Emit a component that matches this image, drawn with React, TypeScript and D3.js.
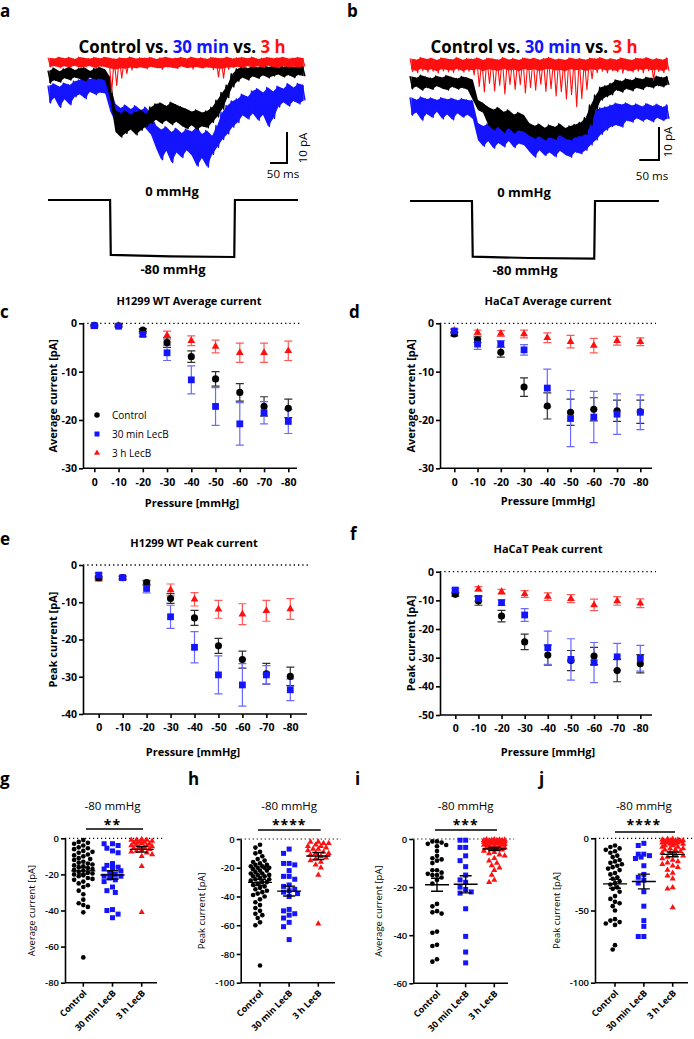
import React, { useEffect, useRef } from 'react';
import * as d3 from 'd3';

const FONT = "'Open Sans', sans-serif";
const BLACK = '#000000';
const BLUE = '#1414ff';
const RED = '#ff1010';

// ---- single-channel current traces: upper / lower edge of the noise band (pA), 51 samples ----
const aRedHi = [1.4, 1.1, 1.6, 1.2, 1.5, 1.0, 1.6, 1.3, 1.1, 1.5, 1.2, 1.6, 1.3, 1.0, 1.4, 1.2, 1.6, 1.1, 1.4, 1.3, 1.5, 1.0, 1.4, 1.6, 1.2, 1.3, 1.5, 1.1, 1.6, 1.2, 1.4, 1.0, 1.5, 1.3, 1.2, 1.6, 1.1, 1.4, 1.5, 1.2, 1.6, 1.0, 1.3, 1.5, 1.2, 1.4, 1.6, 1.1, 1.3, 1.5, 1.2];
const aRedLo = [-1.6, -1.3, -1.9, -1.4, -1.7, -1.2, -1.8, -1.5, -1.3, -1.9, -1.4, -1.6, -9.8, -7.6, -5.2, -3.8, -2.6, -2.0, -1.7, -2.2, -1.5, -1.9, -2.4, -1.6, -1.8, -2.1, -1.4, -1.9, -2.3, -1.6, -2.0, -1.7, -2.5, -4.8, -5.2, -2.4, -1.8, -1.5, -1.9, -1.3, -1.7, -1.4, -1.8, -1.2, -1.6, -1.9, -1.3, -1.7, -1.5, -1.8, -1.4];
const aBlackHi = [-2.8, -1.9, -3.0, -2.2, -1.6, -2.6, -2.0, -1.8, -2.9, -2.1, -1.7, -2.4, -5.0, -15.5, -16.5, -15.8, -17.0, -16.2, -15.5, -16.8, -14.5, -13.5, -13.2, -14.2, -13.0, -13.8, -14.5, -15.2, -16.0, -15.5, -16.3, -15.8, -14.6, -12.3, -9.8, -7.5, -3.8, -2.2, -1.4, -2.0, -1.2, -1.8, -1.0, -1.6, -1.3, -0.9, -1.5, -1.1, -1.7, -1.0, -1.4];
const aBlackLo = [-6.8, -5.9, -6.5, -5.2, -5.8, -4.9, -5.5, -6.1, -5.0, -5.6, -5.3, -6.0, -12.0, -22.5, -24.2, -23.0, -21.8, -23.5, -22.0, -20.8, -19.7, -18.6, -19.8, -18.9, -20.2, -19.3, -20.6, -21.5, -20.4, -21.8, -20.7, -21.2, -19.5, -17.7, -15.2, -11.5, -8.0, -6.2, -5.0, -5.8, -4.6, -5.3, -4.3, -5.1, -4.5, -4.0, -4.8, -4.2, -5.0, -4.1, -4.6];
const aBlueHi = [-7.6, -7.0, -8.0, -6.8, -7.4, -6.2, -5.8, -4.9, -5.5, -4.8, -5.2, -5.0, -8.0, -13.5, -14.8, -13.9, -15.2, -14.1, -15.5, -14.6, -16.8, -20.5, -21.8, -20.9, -22.6, -21.4, -22.9, -21.7, -22.4, -21.0, -23.2, -22.1, -23.8, -20.5, -16.2, -14.0, -12.6, -11.9, -10.4, -11.2, -9.3, -8.6, -9.8, -8.2, -9.5, -7.8, -8.6, -7.0, -8.2, -6.9, -7.5];
const aBlueLo = [-13.2, -11.5, -14.6, -12.0, -13.8, -11.2, -10.4, -11.8, -9.6, -10.5, -9.8, -10.2, -16.0, -19.5, -21.2, -19.0, -20.8, -22.0, -19.8, -21.5, -23.5, -27.8, -31.5, -28.6, -32.4, -29.2, -30.8, -28.5, -30.2, -33.6, -31.0, -33.9, -29.8, -27.5, -25.0, -23.2, -21.0, -19.5, -17.2, -18.4, -16.6, -18.8, -17.0, -20.8, -18.2, -14.5, -13.0, -14.2, -12.6, -13.5, -12.4];

const bRedHi = [2.0, 1.6, 2.3, 1.8, 2.1, 1.5, 2.2, 1.9, 1.7, 2.3, 1.6, 2.0, 1.8, 2.2, 1.5, 2.1, 1.9, 1.6, 2.3, 1.7, 2.0, 1.5, 2.2, 1.8, 2.1, 1.6, 2.0, 2.3, 1.7, 1.9, 1.5, 2.2, 1.8, 2.0, 1.6, 2.1, 1.9, 2.3, 1.7, 2.0, 1.6, 2.2, 1.8, 1.5, 2.1, 1.9, 2.3, 1.7, 2.0, 1.6, 2.2];
const bRedLo = [-2.0, -2.4, -1.7, -2.2, -1.9, -2.5, -1.8, -2.1, -2.3, -1.6, -2.2, -1.9, -3.0, -6.5, -8.2, -5.6, -7.9, -6.2, -8.8, -5.9, -7.4, -6.0, -8.5, -6.8, -7.6, -5.8, -8.0, -7.2, -9.4, -8.1, -10.3, -9.0, -12.6, -10.2, -7.5, -4.2, -2.3, -1.9, -2.4, -1.7, -2.1, -2.5, -1.8, -2.2, -1.9, -2.4, -1.7, -4.6, -2.0, -2.3, -1.8];
const bBlackHi = [-3.4, -3.9, -3.1, -3.6, -4.0, -3.3, -3.8, -3.2, -3.7, -4.1, -3.5, -3.9, -4.5, -10.6, -11.5, -12.7, -13.5, -12.9, -14.2, -13.6, -15.0, -14.4, -15.2, -17.6, -18.4, -17.9, -19.0, -18.2, -18.8, -17.8, -19.1, -18.5, -18.0, -17.4, -16.0, -12.1, -9.1, -6.7, -6.3, -5.6, -4.5, -4.9, -4.2, -4.6, -3.9, -4.3, -3.7, -4.0, -3.4, -3.8, -3.5];
const bBlackLo = [-7.2, -6.5, -7.6, -6.8, -7.4, -6.4, -7.1, -7.6, -6.6, -7.3, -6.9, -7.5, -10.6, -13.6, -14.5, -18.2, -19.6, -18.8, -20.4, -19.2, -20.6, -19.8, -20.2, -21.4, -22.2, -21.6, -22.7, -21.9, -22.5, -21.2, -22.3, -22.7, -21.8, -21.5, -21.0, -18.2, -13.6, -10.6, -9.6, -9.0, -7.6, -8.2, -7.2, -7.8, -6.9, -7.4, -6.5, -6.9, -6.2, -6.6, -6.0];
const bBlueHi = [-9.8, -10.5, -9.7, -10.3, -10.0, -10.6, -9.9, -10.4, -10.1, -10.7, -10.2, -10.6, -10.8, -17.6, -18.5, -17.9, -19.0, -18.3, -19.5, -18.6, -19.7, -18.9, -19.3, -20.8, -21.5, -20.6, -21.8, -21.0, -21.6, -20.7, -21.4, -21.8, -20.9, -21.2, -19.7, -18.2, -13.6, -13.0, -12.7, -12.2, -11.6, -12.0, -11.5, -12.3, -11.8, -12.6, -11.7, -12.4, -11.9, -12.7, -12.1];
const bBlueLo = [-15.2, -14.4, -16.7, -14.8, -15.9, -14.2, -16.3, -15.0, -16.6, -14.6, -15.8, -15.1, -16.4, -22.7, -24.6, -23.1, -25.2, -23.6, -24.8, -23.0, -25.0, -23.8, -24.3, -26.2, -27.9, -25.8, -27.4, -26.5, -27.8, -26.0, -27.2, -27.9, -26.4, -26.9, -25.8, -24.2, -22.7, -21.0, -19.7, -18.6, -18.2, -18.8, -16.8, -17.3, -16.1, -17.0, -16.4, -17.2, -16.0, -16.8, -16.3];

// pressure protocol, [ms, mmHg]
const aPressure: [number, number][] = [[0, 0], [183, 0], [185, -77], [360, -79], [549, -80], [551, 0], [737, 0]];
const bPressure: [number, number][] = [[0, 0], [157, 0], [159, -78], [300, -80], [467, -81], [469, 0], [631, 0]];

// ---- pressure series (mean ± SEM) ----
const pressures = [0, -10, -20, -30, -40, -50, -60, -70, -80];

const cCtrl = [-0.4, -0.5, -1.4, -4.0, -6.9, -11.5, -14.3, -17.2, -17.6];
const cCtrlErr = [0.2, 0.2, 0.3, 1.0, 1.2, 1.5, 1.8, 2.0, 1.9];
const c30 = [-0.5, -0.6, -2.3, -6.1, -11.7, -17.2, -20.8, -18.5, -20.3];
const c30Err = [0.2, 0.2, 0.4, 1.6, 2.9, 3.9, 4.4, 2.3, 2.5];
const c3h = [-0.7, -0.5, -1.7, -2.5, -3.6, -4.8, -6.1, -6.1, -5.7];
const c3hErr = [0.2, 0.2, 0.4, 0.9, 1.0, 1.3, 2.0, 2.0, 2.0];

const dCtrl = [-2.2, -3.4, -6.0, -13.2, -17.1, -18.4, -17.8, -18.1, -18.3];
const dCtrlErr = [0.4, 0.6, 1.0, 1.9, 2.7, 2.7, 2.4, 2.2, 2.4];
const d30 = [-1.6, -4.3, -4.3, -5.5, -13.4, -19.7, -19.4, -18.8, -18.4];
const d30Err = [0.4, 1.1, 0.7, 1.1, 3.9, 5.8, 5.3, 4.2, 3.6];
const d3h = [-1.5, -1.9, -2.1, -2.2, -3.0, -3.8, -4.6, -3.6, -3.8];
const d3hErr = [0.3, 0.5, 0.6, 0.8, 1.0, 1.3, 1.5, 0.9, 0.8];

const eCtrl = [-3.4, -3.4, -4.7, -9.0, -14.2, -21.7, -25.4, -29.2, -29.9];
const eCtrlErr = [0.4, 0.4, 0.6, 1.3, 2.0, 2.0, 2.3, 2.8, 2.5];
const e30 = [-2.7, -3.4, -6.3, -13.9, -22.1, -29.5, -32.2, -29.5, -33.5];
const e30Err = [0.5, 0.4, 1.2, 3.1, 4.2, 5.1, 5.7, 2.5, 2.9];
const e3h = [-3.8, -3.6, -4.9, -6.7, -9.2, -11.9, -13.2, -12.3, -11.8];
const e3hErr = [0.4, 0.4, 0.6, 1.6, 1.8, 2.4, 2.8, 2.8, 2.8];

const fCtrl = [-7.9, -10.2, -15.5, -24.5, -29.1, -31.0, -29.4, -34.5, -32.1];
const fCtrlErr = [0.6, 1.5, 2.0, 2.7, 3.5, 3.5, 3.0, 3.9, 3.2];
const f30 = [-6.4, -9.3, -10.8, -15.1, -26.5, -30.6, -31.7, -29.7, -30.2];
const f30Err = [0.6, 1.0, 1.0, 2.2, 5.8, 7.2, 7.0, 4.7, 4.5];
const f3h = [-7.0, -6.0, -7.0, -7.8, -8.7, -9.4, -11.6, -10.2, -11.0];
const f3hErr = [0.6, 0.8, 0.8, 1.2, 1.3, 1.4, 2.0, 1.5, 1.5];

// ---- single cells at -80 mmHg ----
const groups = ['Control', '30 min LecB', '3 h LecB'];

const gCtrl = [-1, -2, -2.5, -3, -4, -5, -5.5, -6, -7, -7.5, -8, -9, -9.5, -10, -11, -11.5, -12, -13, -13.5, -14, -14.5, -15, -15.5, -16, -16.5, -17, -17.5, -18, -18.5, -19, -19.5, -20, -20.5, -21, -22, -22.5, -23, -24, -25, -26, -27, -29, -31, -34, -36, -37, -38, -41, -66];
const g30 = [-3, -3, -4, -5.5, -7, -8, -14, -15, -16, -16.5, -17, -18, -19, -20, -21, -21, -22, -23, -24, -27, -29, -30, -39.5, -40, -42, -44];
const g3h = [-0.5, -1, -1, -1, -1.5, -2, -2, -2.5, -3, -3, -3.5, -4, -4, -4.5, -5, -5, -5.5, -6, -6.5, -7, -7.5, -8, -9, -10, -15.5, -41];

const hCtrl = [-4, -6, -9, -10, -12, -14, -15, -16, -17, -18, -18, -19, -19, -20, -20, -20, -21, -22, -22, -23, -24, -24, -25, -25, -26, -26, -27, -28, -28, -29, -30, -30, -31, -32, -33, -34, -35, -36, -37, -38, -39, -40, -42, -44, -46, -48, -50, -52, -53, -55, -58, -60, -88];
const h30 = [-7, -10, -17, -17, -18, -22, -26, -26, -28, -32, -33, -35, -36, -37, -38, -40, -49, -50, -52, -53, -55, -58, -61, -70];
const h3h = [-2, -2, -3, -3, -4, -5, -5, -6, -7, -7, -8, -9, -10, -10, -11, -12, -13, -14, -15, -16, -18, -20, -25, -59];

const iCtrl = [-1, -1, -1.5, -2, -2.5, -3, -5, -7, -8, -8.5, -9, -10, -13, -13, -14, -14.5, -15, -15, -16, -17, -18.5, -27, -28, -30, -30.5, -31, -38.5, -39, -44, -44.5, -50, -51];
const i30 = [-0.5, -0.5, -3.5, -3.5, -7, -9, -11.5, -15, -17, -18, -20, -21, -22, -22.5, -29, -40.5, -47, -51.5];
const i3h = [-0.2, -0.2, -0.3, -0.3, -0.4, -0.5, -0.5, -0.5, -0.6, -0.7, -0.8, -0.8, -1, -1, -1, -1.2, -1.2, -1.4, -1.5, -1.5, -1.8, -2, -2, -2.2, -2.5, -2.5, -2.8, -3, -3, -3.5, -3.5, -4, -4, -4.5, -5, -5.5, -6, -6.5, -7, -8, -9, -10, -11, -12, -13, -15, -17, -18];

const jCtrl = [-5, -6, -7, -8, -9, -10, -12, -13, -15, -16, -17, -18, -19, -20, -21, -22, -24, -25, -27, -28, -30, -31, -32, -34, -35, -37, -40, -42, -44, -45, -47, -50, -56, -57, -58, -59, -60, -74, -77];
const j30 = [-3.5, -5, -11, -11, -12, -13, -14, -19, -25, -27, -29, -31, -37, -47, -57, -61, -68, -68];
const j3h = [-0.5, -0.5, -1, -1, -1.5, -1.5, -2, -2, -2, -2.5, -3, -3, -3, -4, -4, -4, -5, -5, -6, -6, -7, -7, -8, -8, -9, -10, -10, -11, -12, -13, -14, -15, -16, -17, -18, -19, -20, -22, -24, -26, -28, -34, -35, -48];

type Sel = d3.Selection<SVGGElement, unknown, null, undefined>;

function addText(g: Sel, x: number, y: number, txt: string, size: number, weight = 400, anchor = 'middle') {
  return g.append('text')
    .attr('x', x).attr('y', y)
    .attr('text-anchor', anchor)
    .attr('font-family', FONT)
    .attr('font-size', size)
    .attr('font-weight', weight)
    .attr('fill', BLACK)
    .text(txt);
}

// noise band: solid core between the edges plus a zig-zag for the spikes
function drawBand(g: Sel, hi: number[], lo: number[], step: number, x: d3.ScaleLinear<number, number>, y: d3.ScaleLinear<number, number>, color: string, spiky: boolean) {
  const area = d3.area<number>()
    .x((_, i) => x(i * step + step / 4))
    .y0((h, i) => y(spiky ? Math.max(lo[i], h - 3.4) : lo[i]))
    .y1((h) => y(h));
  g.append('path').attr('d', area(hi)).attr('fill', color);

  const pts: [number, number][] = [];
  hi.forEach((h, i) => {
    pts.push([x(i * step), y(h)]);
    pts.push([x(i * step + step / 2), y(lo[i])]);
  });
  g.append('path')
    .attr('d', d3.line()(pts))
    .attr('fill', 'none')
    .attr('stroke', color)
    .attr('stroke-width', spiky ? 1.1 : 1.4)
    .attr('stroke-linejoin', 'round');
}

interface TraceCfg {
  cx: number; x0: number; x1: number; step: number; yRef: number; px10: number;
  traces: { hi: number[]; lo: number[]; color: string; spiky?: boolean }[];
  pressure: [number, number][]; pY0: number; pY80: number;
  bar: [number, number]; pALabel: [number, number]; msLabel: [number, number];
}

function drawTracePanel(g: Sel, c: TraceCfg) {
  const n = c.traces[0].hi.length;
  const x = d3.scaleLinear().domain([0, (n - 0.5) * c.step]).range([c.x0, c.x1]);
  const y = d3.scaleLinear().domain([0, -10]).range([c.yRef, c.yRef + c.px10]);

  c.traces.forEach((t) => drawBand(g, t.hi, t.lo, c.step, x, y, t.color, !!t.spiky));

  const title = g.append('text')
    .attr('x', c.cx).attr('y', 53)
    .attr('text-anchor', 'middle')
    .attr('font-family', FONT)
    .attr('font-size', 17)
    .attr('font-weight', 700)
    .attr('textLength', 207)
    .attr('lengthAdjust', 'spacingAndGlyphs')
    .style('white-space', 'pre');
  [['Control vs. ', BLACK], ['30 min', BLUE], [' vs. ', BLACK], ['3 h', RED]].forEach(([s, col]) => {
    title.append('tspan').attr('fill', col).text(s);
  });

  // scale bar: 10 pA / 50 ms
  const [bx, by] = c.bar;
  const w50 = x(50) - x(0);
  const h10 = y(-10) - y(0);
  g.append('path')
    .attr('d', `M${bx - w50},${by}H${bx}V${by - h10}`)
    .attr('fill', 'none').attr('stroke', BLACK).attr('stroke-width', 2);
  addText(g, 0, 0, '10 pA', 11.5)
    .attr('transform', `translate(${c.pALabel[0]},${c.pALabel[1]}) rotate(-90)`);
  addText(g, c.msLabel[0], c.msLabel[1], '50 ms', 11.5);

  // pressure step
  const py = d3.scaleLinear().domain([0, -80]).range([c.pY0, c.pY80]);
  g.append('path')
    .attr('d', d3.line<[number, number]>().x((d) => x(d[0])).y((d) => py(d[1]))(c.pressure))
    .attr('fill', 'none').attr('stroke', BLACK).attr('stroke-width', 2.2);
  addText(g, c.cx - 10, c.pY0 - 4, '0 mmHg', 13, 700);
  addText(g, c.cx - 9, c.pY80 + 17, '-80 mmHg', 13, 700);
}

interface LineCfg {
  axisX: number; axisEnd: number; y0: number; yB: number; min: number; tickStep: number;
  firstX: number; lastX: number;
  title: string; titleX: number; titleY: number;
  yLabel: string; yLabelX: number; xLabelX: number; xLabelY: number;
  series: { vals: number[]; errs: number[]; color: string; errColor: string; shape: d3.SymbolType; size: number }[];
  legend?: boolean;
}

function drawLinePanel(g: Sel, c: LineCfg) {
  const y = d3.scaleLinear().domain([c.min, 0]).range([c.yB, c.y0]);
  const x = d3.scalePoint<number>().domain(pressures).range([c.firstX, c.lastX]);

  // zero line
  g.append('line')
    .attr('x1', c.axisX).attr('x2', c.axisEnd + 4)
    .attr('y1', y(0)).attr('y2', y(0))
    .attr('stroke', BLACK).attr('stroke-width', 1.3).attr('stroke-dasharray', '1.3,3');

  const yTicks = d3.range(0, c.min - 1, -c.tickStep);
  const ya = g.append('g')
    .attr('transform', `translate(${c.axisX},0)`)
    .call(d3.axisLeft(y).tickValues(yTicks).tickSize(4).tickSizeOuter(0).tickFormat((d) => String(d)));
  const xa = g.append('g')
    .attr('transform', `translate(0,${c.yB})`)
    .call(d3.axisBottom(x).tickSize(4).tickSizeOuter(0).tickFormat((d) => String(d)));
  xa.select('.domain').remove();
  g.append('line')
    .attr('x1', c.axisX).attr('x2', c.axisEnd)
    .attr('y1', c.yB).attr('y2', c.yB)
    .attr('stroke', BLACK).attr('stroke-width', 1.6);
  [ya, xa].forEach((a) => {
    a.selectAll('path,line').attr('stroke', BLACK).attr('stroke-width', 1.6);
    a.selectAll('text')
      .attr('font-family', FONT).attr('font-size', 10.5).attr('font-weight', 700).attr('fill', BLACK);
  });
  ya.selectAll('text').attr('x', -6);
  xa.selectAll('text').attr('y', 10);

  c.series.forEach((s) => {
    const eg = g.append('g').attr('stroke', s.errColor).attr('stroke-width', 1.2);
    s.vals.forEach((v, i) => {
      const cx = x(pressures[i]) as number;
      const top = y(v + s.errs[i]);
      const bot = y(v - s.errs[i]);
      eg.append('path').attr('d', `M${cx},${top}V${bot}M${cx - 4},${top}H${cx + 4}M${cx - 4},${bot}H${cx + 4}`);
    });
  });
  c.series.forEach((s) => {
    g.append('g').selectAll('path')
      .data(s.vals)
      .join('path')
      .attr('transform', (v, i) => `translate(${x(pressures[i])},${y(v)})`)
      .attr('d', d3.symbol().type(s.shape).size(s.size)())
      .attr('fill', s.color);
  });

  addText(g, c.titleX, c.titleY, c.title, 11, 700);
  addText(g, c.xLabelX, c.xLabelY, 'Pressure [mmHg]', 11, 700);
  addText(g, 0, 0, c.yLabel, 11, 700)
    .attr('transform', `translate(${c.yLabelX},${(c.y0 + c.yB) / 2}) rotate(-90)`);

  if (c.legend) {
    const items = [
      { name: 'Control', shape: d3.symbolCircle, color: BLACK, size: 24 },
      { name: '30 min LecB', shape: d3.symbolSquare, color: BLUE, size: 25 },
      { name: '3 h LecB', shape: d3.symbolTriangle, color: RED, size: 16 },
    ];
    items.forEach((it, i) => {
      const ly = 415 + i * 19;
      g.append('path')
        .attr('transform', `translate(97,${ly})`)
        .attr('d', d3.symbol().type(it.shape).size(it.size)())
        .attr('fill', it.color);
      addText(g, 112, ly + 3.5, it.name, 10, 400, 'start');
    });
  }
}

interface DotCfg {
  axisX: number; axisEnd: number; y0: number; yB: number; min: number; tickStep: number;
  cols: [number, number]; stars: string; bar: [number, number, number];
  yLabel: string; yLabelX: number;
  data: number[][];
}

// beeswarm within a fixed column width; points overlap once the row is full
function swarm(vals: number[], y: d3.ScaleLinear<number, number>, cx: number, d: number, maxOff: number) {
  const order = vals.map((_, i) => i).sort((a, b) => vals[b] - vals[a]);
  const placed: [number, number][] = [];
  const xs: number[] = new Array(vals.length).fill(cx);
  const offsets: number[] = [];
  for (let k = 0; ; k++) {
    const off = (k % 2 === 0 ? 1 : -1) * Math.ceil(k / 2) * d * 0.5;
    if (Math.abs(off) > maxOff) break;
    offsets.push(off);
  }
  order.forEach((i) => {
    const py = y(vals[i]);
    let best = cx;
    let bestGap = -1;
    for (const off of offsets) {
      const px = cx + off;
      const gap = placed.reduce((m, p) => Math.min(m, Math.hypot(p[0] - px, p[1] - py)), Infinity);
      if (gap >= d) { best = px; bestGap = gap; break; }
      if (gap > bestGap) { bestGap = gap; best = px; }
    }
    xs[i] = best;
    placed.push([best, py]);
  });
  return xs;
}

function drawDotPlot(g: Sel, c: DotCfg) {
  const y = d3.scaleLinear().domain([c.min, 0]).range([c.yB, c.y0]);
  const x = d3.scalePoint<string>().domain(groups).range(c.cols);
  const styles = [
    { shape: d3.symbolCircle, size: 17, color: BLACK, d: 4.6 },
    { shape: d3.symbolSquare, size: 25, color: BLUE, d: 5.6 },
    { shape: d3.symbolTriangle, size: 16, color: RED, d: 5.2 },
  ];

  g.append('line')
    .attr('x1', c.axisX).attr('x2', c.axisEnd + 6)
    .attr('y1', y(0)).attr('y2', y(0))
    .attr('stroke', BLACK).attr('stroke-width', 1.2).attr('stroke-dasharray', '1.2,2.8');

  const ya = g.append('g')
    .attr('transform', `translate(${c.axisX},0)`)
    .call(d3.axisLeft(y).tickValues(d3.range(0, c.min - 1, -c.tickStep)).tickSize(4).tickSizeOuter(0).tickFormat((d) => String(d)));
  ya.selectAll('path,line').attr('stroke', BLACK).attr('stroke-width', 1.6);
  ya.selectAll('text')
    .attr('x', -6)
    .attr('font-family', FONT).attr('font-size', 9.5).attr('font-weight', 600).attr('fill', BLACK);

  g.append('line')
    .attr('x1', c.axisX).attr('x2', c.axisEnd)
    .attr('y1', c.yB).attr('y2', c.yB)
    .attr('stroke', BLACK).attr('stroke-width', 1.6);
  groups.forEach((name) => {
    const cx = x(name) as number;
    g.append('line')
      .attr('x1', cx).attr('x2', cx).attr('y1', c.yB).attr('y2', c.yB + 4)
      .attr('stroke', BLACK).attr('stroke-width', 1.6);
    addText(g, 0, 0, name, 9, 700, 'end')
      .attr('transform', `translate(${cx + 4},${c.yB + 11}) rotate(-45)`);
  });

  c.data.forEach((vals, gi) => {
    const st = styles[gi];
    const cx = x(groups[gi]) as number;
    const xs = swarm(vals, y, cx, st.d, 11);
    g.append('g').selectAll('path')
      .data(vals)
      .join('path')
      .attr('transform', (v, i) => `translate(${xs[i]},${y(v)})`)
      .attr('d', d3.symbol().type(st.shape).size(st.size)())
      .attr('fill', st.color);
  });

  // mean ± SEM
  c.data.forEach((vals, gi) => {
    const cx = x(groups[gi]) as number;
    const m = d3.mean(vals) as number;
    const sem = (d3.deviation(vals) as number) / Math.sqrt(vals.length);
    g.append('path')
      .attr('d', `M${cx - 12},${y(m)}H${cx + 12}M${cx},${y(m + sem)}V${y(m - sem)}M${cx - 6},${y(m + sem)}H${cx + 6}M${cx - 6},${y(m - sem)}H${cx + 6}`)
      .attr('fill', 'none').attr('stroke', BLACK).attr('stroke-width', 1.4);
  });

  const mid = (c.cols[0] + c.cols[1]) / 2;
  addText(g, mid, 810, '-80 mmHg', 11.5, 500);
  addText(g, mid, 830, c.stars, 14, 700).attr('letter-spacing', 1);
  g.append('line')
    .attr('x1', c.bar[0]).attr('x2', c.bar[1]).attr('y1', c.bar[2]).attr('y2', c.bar[2])
    .attr('stroke', BLACK).attr('stroke-width', 1.4);
  addText(g, 0, 0, c.yLabel, 9.5, 400)
    .attr('transform', `translate(${c.yLabelX},${(c.y0 + c.yB) / 2}) rotate(-90)`);
}

const lineStyles = (vals: number[][], errs: number[][]) => [
  { vals: vals[2], errs: errs[2], color: RED, errColor: '#ff5a5a', shape: d3.symbolTriangle, size: 26 },
  { vals: vals[0], errs: errs[0], color: BLACK, errColor: '#303030', shape: d3.symbolCircle, size: 40 },
  { vals: vals[1], errs: errs[1], color: BLUE, errColor: '#6a6aff', shape: d3.symbolSquare, size: 46 },
];

const App: React.FC = () => {
  const svgRef = useRef<SVGSVGElement>(null);

  useEffect(() => {
    if (!svgRef.current) return;
    const svg = d3.select(svgRef.current);
    svg.selectAll('*').remove();
    const root = svg.append('g') as unknown as Sel;

    const labels: [string, number, number][] = [
      ['a', 0, 17], ['b', 347, 17], ['c', 0, 318], ['d', 349, 318], ['e', 0, 545], ['f', 350, 540],
      ['g', 0, 785], ['h', 188, 785], ['i', 355, 785], ['j', 539, 785],
    ];
    labels.forEach(([t, x, y]) => addText(root, x, y, t, 17, 700, 'start'));

    drawTracePanel(root.append('g'), {
      cx: 182, x0: 48, x1: 305, step: 15, yRef: 62, px10: 31,
      traces: [
        { hi: aBlueHi, lo: aBlueLo, color: BLUE },
        { hi: aBlackHi, lo: aBlackLo, color: BLACK },
        { hi: aRedHi, lo: aRedLo, color: RED, spiky: true },
      ],
      pressure: aPressure, pY0: 200, pY80: 257,
      bar: [287, 163], pALabel: [307, 148], msLabel: [283, 178],
    });
    drawTracePanel(root.append('g'), {
      cx: 534, x0: 410, x1: 669, step: 13, yRef: 65, px10: 33,
      traces: [
        { hi: bBlueHi, lo: bBlueLo, color: BLUE },
        { hi: bBlackHi, lo: bBlackLo, color: BLACK },
        { hi: bRedHi, lo: bRedLo, color: RED, spiky: true },
      ],
      pressure: bPressure, pY0: 201, pY80: 258,
      bar: [659, 160], pALabel: [672, 142], msLabel: [652, 180],
    });

    drawLinePanel(root.append('g'), {
      axisX: 83, axisEnd: 297, y0: 323.3, yB: 468.3, min: -30, tickStep: 10,
      firstX: 94.3, lastX: 288.3,
      title: 'H1299 WT Average current', titleX: 189, titleY: 305,
      yLabel: 'Average current [pA]', yLabelX: 57, xLabelX: 192, xLabelY: 507,
      series: lineStyles([cCtrl, c30, c3h], [cCtrlErr, c30Err, c3hErr]),
      legend: true,
    });
    drawLinePanel(root.append('g'), {
      axisX: 440, axisEnd: 652, y0: 323.3, yB: 468.3, min: -30, tickStep: 10,
      firstX: 454.3, lastX: 640.3,
      title: 'HaCaT Average current', titleX: 548, titleY: 305,
      yLabel: 'Average current [pA]', yLabelX: 415, xLabelX: 548, xLabelY: 505,
      series: lineStyles([dCtrl, d30, d3h], [dCtrlErr, d30Err, d3hErr]),
    });
    drawLinePanel(root.append('g'), {
      axisX: 83, axisEnd: 307, y0: 565, yB: 714, min: -40, tickStep: 10,
      firstX: 98.7, lastX: 290.3,
      title: 'H1299 WT Peak current', titleX: 194, titleY: 547,
      yLabel: 'Peak current [pA]', yLabelX: 57, xLabelX: 193, xLabelY: 756,
      series: lineStyles([eCtrl, e30, e3h], [eCtrlErr, e30Err, e3hErr]),
    });
    drawLinePanel(root.append('g'), {
      axisX: 440, axisEnd: 652, y0: 571.7, yB: 715, min: -50, tickStep: 10,
      firstX: 455.3, lastX: 640.3,
      title: 'HaCaT Peak current', titleX: 548, titleY: 553,
      yLabel: 'Peak current [pA]', yLabelX: 415, xLabelX: 548, xLabelY: 756,
      series: lineStyles([fCtrl, f30, f3h], [fCtrlErr, f30Err, f3hErr]),
    });

    drawDotPlot(root.append('g'), {
      axisX: 65, axisEnd: 157, y0: 838.3, yB: 982.7, min: -80, tickStep: 20,
      cols: [83.3, 141.7], stars: '**', bar: [86, 143, 829],
      yLabel: 'Average current [pA]', yLabelX: 35, data: [gCtrl, g30, g3h],
    });
    drawDotPlot(root.append('g'), {
      axisX: 240.7, axisEnd: 335, y0: 839, yB: 982.7, min: -100, tickStep: 20,
      cols: [260, 318.3], stars: '****', bar: [258, 320.7, 830],
      yLabel: 'Peak current [pA]', yLabelX: 205, data: [hCtrl, h30, h3h],
    });
    drawDotPlot(root.append('g'), {
      axisX: 413.3, axisEnd: 508, y0: 839, yB: 983.3, min: -60, tickStep: 20,
      cols: [437, 494.3], stars: '***', bar: [435, 497, 830],
      yLabel: 'Average current [pA]', yLabelX: 382, data: [iCtrl, i30, i3h],
    });
    drawDotPlot(root.append('g'), {
      axisX: 595, axisEnd: 688, y0: 838.3, yB: 982.7, min: -100, tickStep: 50,
      cols: [615, 672.7], stars: '****', bar: [615, 675, 832],
      yLabel: 'Peak current [pA]', yLabelX: 560, data: [jCtrl, j30, j3h],
    });
  }, []);

  return (
    <svg
      ref={svgRef}
      width={694}
      height={1039}
      style={{ position: 'absolute', left: 0, top: 0, background: '#ffffff' }}
    />
  );
};

export default App;
